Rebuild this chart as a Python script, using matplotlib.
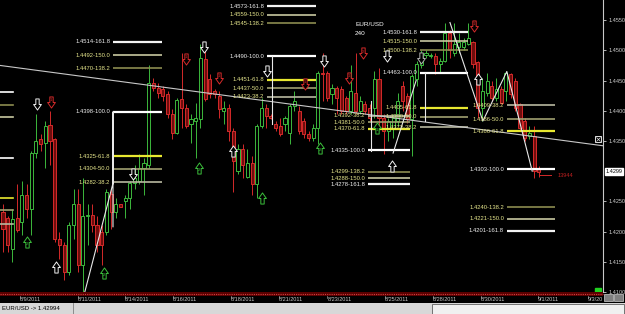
"""
EUR/USD 240 — 4h candles with fib projection levels, zigzags and signal arrows
"""
import matplotlib
matplotlib.use("Agg")
import matplotlib.pyplot as plt
from matplotlib.path import Path
from matplotlib.patches import Rectangle
from matplotlib.lines import Line2D
import numpy as np

plt.rcParams["font.family"] = ["Liberation Sans", "DejaVu Sans"]

# ── candles (4h) ───────────────────────────────────────────
opens = [1.4233, 1.4222, 1.4171, 1.4222, 1.4216, 1.4261, 1.4238, 1.4330, 1.4353, 1.4346,
         1.4376, 1.4353, 1.4188, 1.4178, 1.4133, 1.4211, 1.4246, 1.4145, 1.4225, 1.4228,
         1.4211, 1.4200, 1.4200, 1.4263, 1.4233, 1.4245, 1.4250, 1.4255, 1.4280, 1.4283,
         1.4305, 1.4311, 1.4446, 1.4438, 1.4436, 1.4428, 1.4395, 1.4363, 1.4420, 1.4405,
         1.4378, 1.4383, 1.4386, 1.4486, 1.4453, 1.4433, 1.4425, 1.4400, 1.4405, 1.4366,
         1.4300, 1.4336, 1.4291, 1.4313, 1.4278, 1.4375, 1.4405, 1.4391, 1.4378, 1.4375,
         1.4378, 1.4363, 1.4408, 1.4400, 1.4383, 1.4361, 1.4355, 1.4371, 1.4463, 1.4463,
         1.4428, 1.4438, 1.4436, 1.4421, 1.4400, 1.4430, 1.4400, 1.4411, 1.4405, 1.4405,
         1.4453, 1.4388, 1.4366, 1.4371, 1.4383, 1.4441, 1.4425, 1.4386, 1.4453, 1.4475,
         1.4493, 1.4491, 1.4491, 1.4478, 1.4483, 1.4528, 1.4496, 1.4505, 1.4506, 1.4511,
         1.4513, 1.4480, 1.4405, 1.4430, 1.4441, 1.4421, 1.4436, 1.4433, 1.4461, 1.4450,
         1.4411, 1.4383, 1.4358, 1.4358, 1.4303]
highs = [1.4245, 1.4225, 1.4238, 1.4278, 1.4283, 1.4278, 1.4333, 1.4395, 1.4361, 1.4383,
         1.4400, 1.4355, 1.4200, 1.4183, 1.4216, 1.4271, 1.4271, 1.4288, 1.4245, 1.4245,
         1.4225, 1.4211, 1.4270, 1.4271, 1.4255, 1.4246, 1.4261, 1.4283, 1.4311, 1.4328,
         1.4321, 1.4475, 1.4455, 1.4446, 1.4441, 1.4433, 1.4403, 1.4421, 1.4495, 1.4411,
         1.4395, 1.4413, 1.4511, 1.4511, 1.4461, 1.4436, 1.4433, 1.4416, 1.4411, 1.4371,
         1.4345, 1.4345, 1.4336, 1.4325, 1.4378, 1.4421, 1.4411, 1.4395, 1.4383, 1.4388,
         1.4391, 1.4411, 1.4433, 1.4408, 1.4388, 1.4366, 1.4378, 1.4466, 1.4496, 1.4466,
         1.4445, 1.4441, 1.4441, 1.4425, 1.4475, 1.4495, 1.4425, 1.4416, 1.4411, 1.4466,
         1.4470, 1.4395, 1.4388, 1.4395, 1.4430, 1.4450, 1.4430, 1.4461, 1.4483, 1.4500,
         1.4500, 1.4496, 1.4496, 1.4488, 1.4545, 1.4533, 1.4545, 1.4528, 1.4520, 1.4546,
         1.4516, 1.4483, 1.4455, 1.4463, 1.4450, 1.4455, 1.4441, 1.4466, 1.4463, 1.4455,
         1.4413, 1.4388, 1.4375, 1.4375, 1.4308]
lows = [1.4167, 1.4167, 1.4150, 1.4200, 1.4195, 1.4222, 1.4195, 1.4321, 1.4333, 1.4305,
        1.4311, 1.4183, 1.4155, 1.4120, 1.4128, 1.4188, 1.4133, 1.4100, 1.4178, 1.4200,
        1.4167, 1.4145, 1.4195, 1.4205, 1.4222, 1.4240, 1.4222, 1.4238, 1.4271, 1.4278,
        1.4261, 1.4305, 1.4433, 1.4421, 1.4416, 1.4388, 1.4353, 1.4361, 1.4371, 1.4371,
        1.4346, 1.4321, 1.4371, 1.4416, 1.4421, 1.4421, 1.4388, 1.4378, 1.4350, 1.4266,
        1.4295, 1.4288, 1.4288, 1.4261, 1.4255, 1.4371, 1.4371, 1.4386, 1.4366, 1.4358,
        1.4366, 1.4345, 1.4400, 1.4361, 1.4355, 1.4350, 1.4350, 1.4345, 1.4416, 1.4416,
        1.4411, 1.4395, 1.4395, 1.4395, 1.4395, 1.4395, 1.4395, 1.4395, 1.4383, 1.4388,
        1.4371, 1.4328, 1.4350, 1.4355, 1.4375, 1.4400, 1.4380, 1.4325, 1.4441, 1.4470,
        1.4488, 1.4488, 1.4461, 1.4463, 1.4480, 1.4488, 1.4491, 1.4495, 1.4500, 1.4508,
        1.4470, 1.4388, 1.4383, 1.4425, 1.4416, 1.4416, 1.4411, 1.4416, 1.4421, 1.4400,
        1.4366, 1.4350, 1.4353, 1.4288, 1.4291]
closes = [1.4205, 1.4178, 1.4220, 1.4203, 1.4261, 1.4238, 1.4330, 1.4350, 1.4345, 1.4375,
          1.4350, 1.4188, 1.4178, 1.4133, 1.4211, 1.4246, 1.4145, 1.4225, 1.4228, 1.4211,
          1.4178, 1.4178, 1.4266, 1.4233, 1.4245, 1.4241, 1.4255, 1.4280, 1.4288, 1.4305,
          1.4313, 1.4446, 1.4438, 1.4430, 1.4425, 1.4395, 1.4363, 1.4418, 1.4405, 1.4375,
          1.4386, 1.4388, 1.4488, 1.4420, 1.4428, 1.4428, 1.4403, 1.4405, 1.4366, 1.4316,
          1.4336, 1.4311, 1.4313, 1.4278, 1.4375, 1.4405, 1.4391, 1.4388, 1.4371, 1.4361,
          1.4388, 1.4408, 1.4416, 1.4366, 1.4361, 1.4355, 1.4371, 1.4463, 1.4461, 1.4421,
          1.4438, 1.4421, 1.4400, 1.4400, 1.4433, 1.4400, 1.4416, 1.4400, 1.4388, 1.4453,
          1.4388, 1.4366, 1.4383, 1.4388, 1.4416, 1.4416, 1.4386, 1.4458, 1.4478, 1.4495,
          1.4495, 1.4493, 1.4478, 1.4483, 1.4528, 1.4500, 1.4511, 1.4513, 1.4513, 1.4520,
          1.4478, 1.4405, 1.4433, 1.4450, 1.4421, 1.4436, 1.4413, 1.4463, 1.4428, 1.4405,
          1.4371, 1.4355, 1.4363, 1.4300, 1.4299]
last_price = 1.42994

# price axis ticks (1.4300 sits under the live-price box)
price_ticks = [1.4100, 1.4150, 1.4200, 1.4250, 1.4350, 1.4400, 1.4450, 1.4500, 1.4550]

# ── date axis (bar index where each label sits) ────────────
date_labels = ["8/9/2011", "8/11/2011", "8/14/2011", "8/16/2011", "8/18/2011", "8/21/2011",
               "8/23/2011", "8/25/2011", "8/28/2011", "8/30/2011", "9/1/2011", "9/3/20"]
date_bars = [3.6, 16.0, 26.0, 36.2, 48.5, 58.7, 69.0, 81.3, 91.5, 101.7, 113.8, 124.5]

# ── fib projection levels ──────────────────────────────────
group_start = [23.4, 56.2, 77.7, 88.7, 107.2]
group_end = [33.8, 66.6, 86.6, 98.9, 117.4]
fib_group = [0] * 7 + [1] * 7 + [2] * 7 + [3] * 7 + [4] * 7
fib_prices = [1.4514, 1.4492, 1.4470, 1.4398, 1.4325, 1.4304, 1.4282,
              1.4573, 1.4559, 1.4545, 1.4490, 1.4451, 1.4437, 1.4423,
              1.4392, 1.4381, 1.4370, 1.4335, 1.4299, 1.4288, 1.4278,
              1.4530, 1.4515, 1.4500, 1.4463, 1.4405, 1.4390, 1.4373,
              1.4409, 1.4386, 1.4366, 1.4303, 1.4240, 1.4221, 1.4201]
fib_ratios = ["161.8", "150.0", "138.2", "100.0", "61.8", "50.0", "38.2",
              "161.8", "150.0", "138.2", "100.0", "61.8", "50.0", "38.2",
              "38.2", "50.0", "61.8", "100.0", "138.2", "150.0", "161.8",
              "161.8", "150.0", "138.2", "100.0", "61.8", "50.0", "38.2",
              "38.2", "50.0", "61.8", "100.0", "138.2", "150.0", "161.8"]

# short stubs at the left edge (older levels running off chart)
stub_prices = [1.4431, 1.4410, 1.4390, 1.4321, 1.4255, 1.4235, 1.4213]
stub_ratios = ["100.0", "138.2", "150.0", "100.0", "61.8", "50.0", "38.2"]

# long trend line and zigzags (bar, price)
trend_bars = [-0.64, 127.7]
trend_prices = [1.4475, 1.4342]
zig_bars = [[17.4, 23.4, 23.4, 23.4], [57.2, 57.2], [78.3, 78.3], [83.0, 87.9],
            [95.1, 102.1, 107.2, 112.6], [89.8, 89.8]]
zig_prices = [[1.4100, 1.4280, 1.4398, 1.4208], [1.4490, 1.4378], [1.4416, 1.4333],
              [1.4330, 1.4450], [1.4546, 1.4383, 1.4465, 1.4300], [1.4463, 1.4383]]

# signal arrows
arrow_bars = [7.2, 10.2, 5.1, 11.3, 21.5, 27.7, 38.9, 42.8, 41.7, 46.0, 48.9, 56.2,
              55.1, 64.3, 68.3, 67.4, 73.6, 76.6, 79.6, 82.8, 81.7, 88.9, 100.2, 101.1]
arrow_prices = [1.4411, 1.4415, 1.4183, 1.4141, 1.4131, 1.4296, 1.4486, 1.4506, 1.4305,
                1.4455, 1.4333, 1.4466, 1.4255, 1.4445, 1.4483, 1.4338, 1.4455, 1.4495,
                1.4371, 1.4308, 1.4490, 1.4488, 1.4541, 1.4453]
arrow_kind = ["dw", "dr", "ug", "uw", "ug", "dw", "dr", "dw", "ug", "dr", "uw", "dw",
              "ug", "dr", "dw", "ug", "dr", "dr", "ug", "uw", "dw", "dg", "dr", "uw"]
arrow_num = ["", "1", "2", "", "2", "", "1", "", "2", "1", "", "",
             "", "1", "", "2", "1", "2", "1", "", "", "", "1", ""]

# ── styles ─────────────────────────────────────────────────
LINE_COL = {"161.8": "#f2f2f2", "150.0": "#c8c8a0", "138.2": "#8c8c50", "100.0": "#ffffff",
            "61.8": "#e8e830", "50.0": "#a0a070", "38.2": "#b8b8a0"}
TEXT_COL = {"161.8": "#f0f0f0", "100.0": "#f0f0f0"}
ARROW_COL = {"w": "#f0f0f0", "r": "#d42a2a", "g": "#3cc03c", "g2": "#b0b0b0"}
GREEN, RED, RED_FILL = "#3cb83c", "#d42a2a", "#6e0d0d"

W, H = 625, 314
fig = plt.figure(figsize=(W / 100, H / 100), dpi=100)
fig.patch.set_facecolor("black")
ax = fig.add_axes([0, 22 / H, 603 / W, 292 / H])
ax.set_facecolor("black")
ax.set_xlim(-0.64, 127.66)
ax.set_ylim(1.41, 1.45833)

# candles
idx = np.arange(len(opens))
o, h, l, c = map(np.array, (opens, highs, lows, closes))
up = c >= o
ax.vlines(idx[up], l[up], h[up], color=GREEN, lw=0.7, zorder=3)
ax.vlines(idx[~up], l[~up], h[~up], color=RED, lw=0.7, zorder=3)
body_lo = np.minimum(o, c)
body_h = np.maximum(np.abs(c - o), 0.00004)
ax.bar(idx[up], body_h[up], 0.65, bottom=body_lo[up], facecolor="black",
       edgecolor=GREEN, lw=0.7, zorder=4)
ax.bar(idx[~up], body_h[~up], 0.65, bottom=body_lo[~up], facecolor=RED_FILL,
       edgecolor=RED, lw=0.7, zorder=4)

# fib levels
for p, r, g in zip(fib_prices, fib_ratios, fib_group):
    x0, x1 = group_start[g], group_end[g]
    lw = 1.6 if r in ("100.0", "161.8", "61.8") else 1.2
    ax.plot([x0, x1], [p, p], color=LINE_COL[r], lw=lw, zorder=5, solid_capstyle="butt")
    ax.text(x0 - 0.6, p, f"{p:.4f}-{r}", color=TEXT_COL.get(r, "#e6e68c"),
            fontsize=4.2, ha="right", va="center", zorder=6)
for p, r in zip(stub_prices, stub_ratios):
    ax.plot([-0.64, 2.1], [p, p], color=LINE_COL[r], lw=1.2, zorder=5)

ax.plot(trend_bars, trend_prices, color="#c8c8c8", lw=0.8, zorder=5)
for zb, zp in zip(zig_bars, zig_prices):
    ax.plot(zb, zp, color="#e8e8e8", lw=0.8, zorder=5)

# arrows
down_path = Path([(-0.3, 1), (0.3, 1), (0.3, 0), (0.7, 0), (0, -1), (-0.7, 0), (-0.3, 0), (-0.3, 1)],
                 [Path.MOVETO] + [Path.LINETO] * 6 + [Path.CLOSEPOLY])
up_path = Path(down_path.vertices * [1, -1], down_path.codes)
for xb, p, k, n in zip(arrow_bars, arrow_prices, arrow_kind, arrow_num):
    col = ARROW_COL["g2"] if k == "dg" else ARROW_COL[k[1]]
    ax.plot(xb, p, marker=down_path if k[0] == "d" else up_path, ms=8,
            mfc="black", mec=col, mew=0.7, zorder=7)
    if n:
        ax.text(xb, p + (0.0003 if k[0] == "d" else -0.0003), n, color=col,
                fontsize=3.2, ha="center", va="center", zorder=8)

# box marker near right edge and green square
ax.plot(126.7, 1.4353, marker="s", ms=4.5, mfc="black", mec="#e0e0e0", mew=0.7, zorder=7)
ax.plot(126.7, 1.4353, marker="x", ms=3, mec="#e0e0e0", mew=0.5, zorder=8)
ax.plot(126.6, 1.4101, marker="s", ms=4.5, color="#20d020", zorder=7)

# current bar marker
ax.plot([114, 116.5], [1.4293, 1.4293], color=RED, lw=0.7, zorder=6)
ax.text(118.0, 1.4292, "13944", color="#c02020", fontsize=4, va="center", zorder=6)

ax.text(74.9, 1.4542, "EUR/USD", color="white", fontsize=4.6, va="center", zorder=6)
ax.text(74.9, 1.4528, "240", color="white", fontsize=4.6, va="center", zorder=6)

# price axis on the right
ax.yaxis.tick_right()
ax.set_yticks(price_ticks)
ax.yaxis.set_major_formatter(matplotlib.ticker.FormatStrFormatter("%.4f"))
ax.tick_params(axis="y", colors="#d0d0d0", labelsize=4, length=2, width=0.6, pad=2)
ax.set_xticks([])
for s in ("top", "left", "bottom"):
    ax.spines[s].set_visible(False)
ax.spines["right"].set_color("#c8c8c8")
ax.spines["right"].set_linewidth(0.8)
ax.text(1.004, (last_price - 1.41) / (1.45833 - 1.41), f"{last_price:.4f}",
        transform=ax.transAxes, fontsize=4, color="black", va="center", ha="left",
        bbox=dict(boxstyle="square,pad=0.15", fc="white", ec="white"))

# date strip
fig.add_artist(Rectangle((0, 1 - 296 / H), 603 / W, 4 / H, transform=fig.transFigure,
                         facecolor="#5a0000", edgecolor="none"))
fig.add_artist(Line2D([0, 603 / W], [1 - 294 / H] * 2, transform=fig.transFigure,
                      color="#d04040", lw=0.8, linestyle=(0, (1, 1))))
for lab, b in zip(date_labels, date_bars):
    xf = (3 + b * 4.7) / W
    fig.add_artist(Line2D([xf, xf], [1 - 296 / H, 1 - 298 / H], transform=fig.transFigure,
                          color="#a0a0a0", lw=0.5))
    fig.text(xf, 1 - 299.5 / H, lab, color="#c8c8c8", fontsize=4, ha="left", va="center")

# bottom-right buttons
for bx in (604, 614):
    fig.add_artist(Rectangle((bx / W, 1 - 301 / H), 9 / W, 7 / H, transform=fig.transFigure,
                             facecolor="#808080", edgecolor="#d0d0d0", lw=0.5))

# status bar
fig.add_artist(Rectangle((0, 0), 1, 11 / H, transform=fig.transFigure,
                         facecolor="#d8d8d8", edgecolor="none"))
fig.add_artist(Line2D([73 / W] * 2, [0, 11 / H], transform=fig.transFigure, color="#808080", lw=0.6))
fig.add_artist(Rectangle((432 / W, 0), 192 / W, 10 / H, transform=fig.transFigure,
                         facecolor="#f0f0f0", edgecolor="#606060", lw=0.6))
fig.text(2 / W, 5.5 / H, f"EUR/USD -> {last_price:.5f}", fontsize=4.3, color="black", va="center")

fig.savefig("out.png", dpi=100, facecolor="black")
